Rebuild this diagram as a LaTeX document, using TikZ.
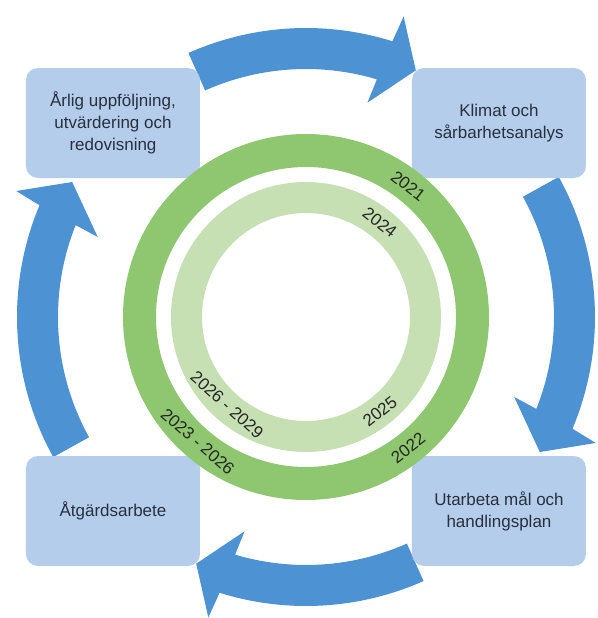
\documentclass[tikz,border=0pt]{standalone}
\usepackage{fontspec}
\setmainfont{Liberation Sans}
\usetikzlibrary{positioning}
\definecolor{boxblue}{RGB}{180,205,235}
\definecolor{arrowblue}{RGB}{77,146,211}
\definecolor{ringgreen}{RGB}{143,199,112}
\definecolor{ringlight}{RGB}{198,224,180}
\definecolor{textdark}{RGB}{40,48,62}

\begin{document}
\begin{tikzpicture}[x=0.5pt,y=0.5pt]
	\useasboundingbox (-306,-301) rectangle (292,317);
	\tikzstyle{every node}=[font=\fontsize{8.5}{11}\selectfont, text=textdark]
	\tikzstyle{stepbox}=[fill=boxblue, rounded corners=6pt, minimum width=87pt, minimum height=55pt, align=center, inner sep=1pt]
	\tikzstyle{yearlabel}=[inner sep=0pt, text=black!85]
	% curved arrows, clockwise
	\foreach \ax/\t/\hi/\ho/\tp in {90/24/16/18/24, 0/29/21/23.5/30, -90/24/16/18/24, 180/29/21/23.5/30}
		\fill[arrowblue] ({\ax+\t}:289) arc[start angle={\ax+\t}, end angle={\ax-\hi-0.7*(\ho-\hi)}, radius=289]
			-- ({\ax-\ho}:316) -- ({\ax-\tp}:270) -- ({\ax-\hi}:223)
			-- ({\ax-\hi-0.3*(\ho-\hi)}:248) arc[start angle={\ax-\hi-0.3*(\ho-\hi)}, end angle={\ax+\t}, radius=248] -- cycle;
	% steps
	\draw (-193,194) node (uppf) [stepbox] {Årlig uppföljning,\\utvärdering och\\redovisning};
	\draw (193,194) node (klimat) [stepbox] {Klimat och\\sårbarhetsanalys};
	\draw (193,-194) node (plan) [stepbox] {Utarbeta mål och\\handlingsplan};
	\draw (-193,-194) node (atgard) [stepbox] {Åtgärdsarbete};
	% year rings
	\fill[ringgreen, even odd rule] (0,0) circle[radius=183] circle[radius=150];
	\fill[ringlight, even odd rule] (0,0) circle[radius=135] circle[radius=104];
	\draw (52:166) node (y2021) [yearlabel, rotate=-38] {2021};
	\draw (-52:166) node (y2022) [yearlabel, rotate=38] {2022};
	\draw (-131:165) node (y2023) [yearlabel, rotate=-41] {2023 - 2026};
	\draw (52:120) node (y2024) [yearlabel, rotate=-38] {2024};
	\draw (-52:120) node (y2025) [yearlabel, rotate=38] {2025};
	\draw (-132:118) node (y2026) [yearlabel, rotate=-42] {2026 - 2029};
\end{tikzpicture}
\end{document}
